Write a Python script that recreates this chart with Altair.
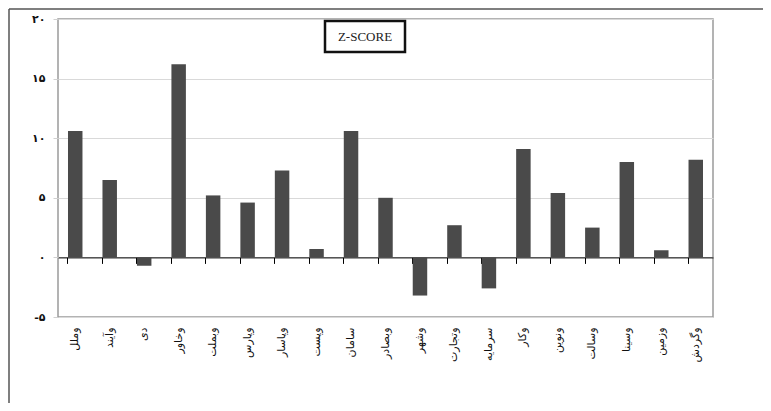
import altair as alt
import pandas as pd

# ---- data ----
tickers = ["وملل", "وآیند", "دی", "وخاور", "وبملت", "وپارس", "وپاسار", "وپست",
           "سامان", "وبصادر", "وشهر", "وتجارت", "سرمایه", "وکار", "ونوین",
           "وسالت", "وسینا", "وزمین", "وگردش"]
zscores = [10.6, 6.5, -0.7, 16.2, 5.2, 4.6, 7.3, 0.7, 10.6, 5.0, -3.2, 2.7,
           -2.6, 9.1, 5.4, 2.5, 8.0, 0.6, 8.2]
y_tick_values = [-5, 0, 5, 10, 15, 20]
y_tick_labels = ["-۵", "۰", "۵", "۱۰", "۱۵", "۲۰"]
chart_label = "Z-SCORE"

df = pd.DataFrame({"ticker": tickers, "z": zscores})

label_expr = " : ".join(
    f"datum.value == {v} ? '{t}'" for v, t in zip(y_tick_values, y_tick_labels)
) + " : ''"

W, H = 655, 298
y_min, y_max = -5, 20
zero_offset = -H * (0 - y_min) / (y_max - y_min)

x_scale = alt.Scale(paddingInner=0.58, paddingOuter=0.29)
y_scale = alt.Scale(domain=[y_min, y_max], nice=False)

bars = alt.Chart(df).mark_bar(color="#4a4a4a").encode(
    x=alt.X("ticker:N", sort=tickers, scale=x_scale,
            axis=alt.Axis(orient="bottom", title=None, labelAngle=-90,
                          labelFont="DejaVu Sans", labelFontSize=11,
                          labelColor="#111", labelPadding=10,
                          ticks=False, domain=False, grid=False)),
    y=alt.Y("z:Q", scale=y_scale,
            axis=alt.Axis(title=None, values=y_tick_values, labelExpr=label_expr,
                          labelFont="DejaVu Sans", labelFontSize=11,
                          labelFontWeight="bold", labelColor="#111",
                          labelPadding=8, tickSize=5, tickColor="#d0d0d0",
                          domain=False, grid=True, gridColor="#d9d9d9")),
)

zero_axis = alt.Chart(df).mark_bar(opacity=0).encode(
    x=alt.X("ticker:N", sort=tickers, scale=x_scale,
            axis=alt.Axis(orient="bottom", title=None, labels=False,
                          ticks=True, bandPosition=0, tickSize=6, tickWidth=1,
                          tickOpacity=1, tickColor="#000", domain=True,
                          domainColor="#000", domainWidth=1,
                          offset=zero_offset, grid=False)),
    y=alt.Y("z:Q", scale=y_scale),
)

frame_data = alt.Data(values=[{"a": 1}])
frame_top = alt.Chart(frame_data).mark_rule(color="#555", strokeWidth=1.5).encode(
    x=alt.value(-49), x2=alt.value(720), y=alt.value(-10))
frame_left = alt.Chart(frame_data).mark_rule(color="#555", strokeWidth=1.5).encode(
    x=alt.value(-49), y=alt.value(-10), y2=alt.value(400))

box = alt.Chart(frame_data).mark_rect(fill="white", stroke="#111", strokeWidth=2.5).encode(
    x=alt.value(267), x2=alt.value(347), y=alt.value(2), y2=alt.value(33))
box_text = alt.Chart(frame_data).mark_text(
    text=chart_label, font="Liberation Serif", fontSize=13, color="#222",
    align="center", baseline="middle").encode(
    x=alt.value(307), y=alt.value(18))

chart = alt.layer(bars, zero_axis, frame_top, frame_left, box, box_text).resolve_axis(
    x="independent"
).properties(
    width=W, height=H,
    autosize=alt.AutoSizeParams(type="none"),
    padding={"left": 50, "top": 11, "right": 50, "bottom": 86},
).configure_view(stroke="#9a9a9a", strokeWidth=1.5)

chart.save("out.html", embed_options={"renderer": "svg", "actions": False})
